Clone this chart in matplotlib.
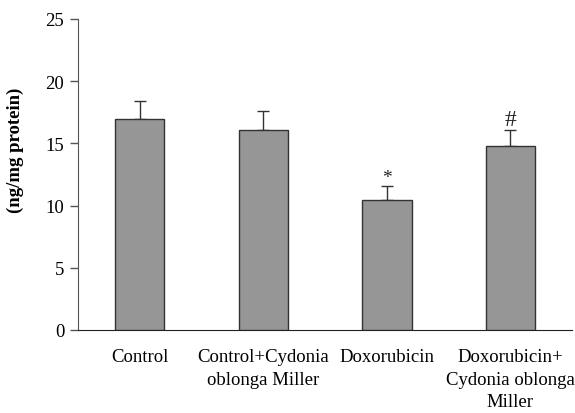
import matplotlib
matplotlib.use("Agg")
import matplotlib.pyplot as plt

categories = ["Control", "Control+Cydonia\noblonga Miller", "Doxorubicin",
              "Doxorubicin+\nCydonia oblonga\nMiller"]
values = [17.0, 16.1, 10.45, 14.8]
errors = [1.4, 1.5, 1.15, 1.3]
marks = ["", "", "*", "#"]
mark_sizes = [14, 14, 14, 17]
yticks = [0, 5, 10, 15, 20, 25]

plt.rcParams['font.family'] = ['Liberation Serif', 'DejaVu Serif']

fig = plt.figure(figsize=(5.75, 4.14), dpi=100)
ax = fig.add_axes([0.1357, 0.2005, 0.8593, 0.7512])

x = list(range(len(categories)))
ax.errorbar(x, values, yerr=[[0] * len(values), errors], fmt='none',
            ecolor='#333333', elinewidth=1.0, capsize=4.5, capthick=1.0, zorder=2)
ax.bar(x, values, width=0.4, color='#969696', edgecolor='#333333',
       linewidth=1.0, zorder=3)
for xi, v, e, m, fs in zip(x, values, errors, marks, mark_sizes):
    if m:
        ax.text(xi, v + e + 0.0, m, ha='center', va='bottom', fontsize=fs,
                color='#222222')

ax.set_xlim(-0.5, 3.5)
ax.set_ylim(0, 25)
ax.set_yticks(yticks)
ax.set_xticks(x)
ax.set_xticklabels(categories, fontsize=13.5, linespacing=1.42)
ax.tick_params(axis='x', length=0, pad=13)
ax.tick_params(axis='y', length=6, width=1, color='#555555', labelsize=13.5, pad=4)
for s in ['top', 'right']:
    ax.spines[s].set_visible(False)
ax.spines['left'].set_color('#555555')
ax.spines['bottom'].set_color('#222222')
ax.set_ylabel("(ng/mg protein)", fontsize=13.5, fontweight='bold')
ax.yaxis.set_label_coords(-0.11, 0.58)

fig.savefig("out.png", dpi=100)
